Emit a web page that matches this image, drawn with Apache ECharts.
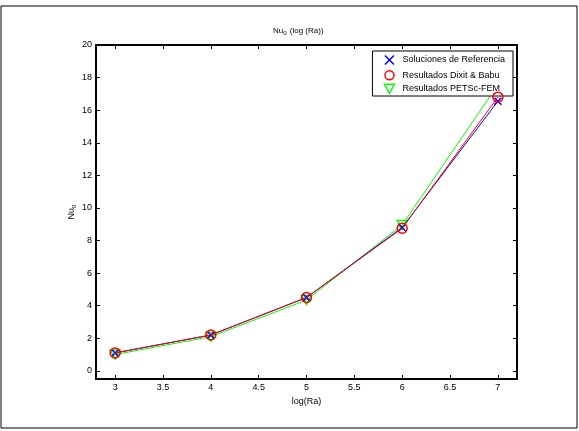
<!DOCTYPE html>
<html>
<head>
<meta charset="utf-8">
<script src="https://cdn.jsdelivr.net/npm/echarts@6/dist/echarts.min.js"></script>
<style>
  html, body { margin: 0; padding: 0; background: #fff; }
  #chart { width: 579px; height: 431px; }
</style>
</head>
<body>
<div id="chart"></div>
<script>
// log(Ra) categories
const logRa = [3, 4, 5, 6, 7];
// Nu_0 values
const referencia = [1.1, 2.2, 4.5, 8.8, 16.55];
const dixitBabu = [1.1, 2.2, 4.5, 8.75, 16.8];
const petscFem = [1.0, 2.1, 4.35, 8.95, 17.55];
// tick labels
const xTicks = [3, 3.5, 4, 4.5, 5, 5.5, 6, 6.5, 7];
const yTicks = [0, 2, 4, 6, 8, 10, 12, 14, 16, 18, 20];

const names = ['Soluciones de Referencia', 'Resultados Dixit & Babu', 'Resultados PETSc-FEM'];
const xPath = 'path://M0,0L10,10M10,0L0,10';
const triPath = 'path://M0,0L10,0L5,9Z';
const font = 'Liberation Sans, Arial, sans-serif';

const pairs = (ys) => logRa.map((x, i) => [x, ys[i]]);

const chart = echarts.init(document.getElementById('chart'));

const axisBase = {
  type: 'value',
  axisLine: { show: true, onZero: false, lineStyle: { color: '#000', width: 2 } },
  splitLine: { show: false },
};
const tickStyle = { color: '#000', width: 1 };

chart.setOption({
  animation: false,
  backgroundColor: '#fff',
  title: {
    text: 'Nu{sub|0} (log (Ra))',
    left: 268,
    top: 20,
    textStyle: {
      fontFamily: font,
      fontSize: 8,
      fontWeight: 'normal',
      color: '#000',
      rich: { sub: { fontFamily: font, fontSize: 6, verticalAlign: 'bottom', padding: [5, 1, 0, 0] } },
    },
  },
  legend: {
    orient: 'vertical',
    right: 66,
    top: 51,
    backgroundColor: '#fff',
    borderColor: '#000',
    borderWidth: 1,
    borderRadius: 0,
    padding: [2, 8, 2, 10],
    itemGap: 3,
    itemWidth: 10,
    itemHeight: 9,
    textStyle: { fontFamily: font, fontSize: 9, lineHeight: 9, color: '#000', padding: [0, 0, 0, 3] },
    data: [
      { name: names[0], icon: xPath, itemStyle: { color: 'none', borderColor: '#0000ff', borderWidth: 1.5 } },
      { name: names[1], icon: 'circle', itemStyle: { color: '#fff', borderColor: '#ff0000', borderWidth: 1.5 } },
      { name: names[2], icon: triPath, itemStyle: { color: '#fff', borderColor: '#00ff00', borderWidth: 1.5 } },
    ],
  },
  grid: { left: 96, right: 62, top: 45, bottom: 52 },
  xAxis: [
    {
      ...axisBase,
      min: 2.8,
      max: 7.2,
      position: 'bottom',
      name: 'log(Ra)',
      nameLocation: 'middle',
      nameGap: 17,
      nameTextStyle: { fontFamily: font, fontSize: 9, color: '#000' },
      axisTick: { show: true, inside: true, length: 4, customValues: xTicks, lineStyle: tickStyle },
      axisLabel: { customValues: xTicks, fontFamily: font, fontSize: 9, color: '#000', margin: 4 },
    },
    {
      ...axisBase,
      min: 2.8,
      max: 7.2,
      position: 'top',
      axisTick: { show: true, inside: true, length: 4, customValues: xTicks, lineStyle: tickStyle },
      axisLabel: { show: false },
    },
  ],
  yAxis: [
    {
      ...axisBase,
      min: -0.5,
      max: 20,
      position: 'left',
      name: 'Nu{sub|0}',
      nameLocation: 'middle',
      nameGap: 19,
      nameMoveOverlap: false,
      nameTextStyle: {
        fontFamily: font, fontSize: 9, color: '#000',
        rich: { sub: { fontFamily: font, fontSize: 6, verticalAlign: 'bottom', padding: [5, 0, 0, 0] } },
      },
      axisTick: { show: true, inside: true, length: 4, customValues: yTicks, lineStyle: tickStyle },
      axisLabel: { customValues: yTicks, fontFamily: font, fontSize: 9, color: '#000', margin: 4 },
    },
    {
      ...axisBase,
      min: -0.5,
      max: 20,
      position: 'right',
      axisTick: { show: true, inside: true, length: 4, customValues: yTicks, lineStyle: tickStyle },
      axisLabel: { show: false },
    },
  ],
  series: [
    {
      name: names[0],
      type: 'line',
      data: pairs(referencia),
      symbol: xPath,
      symbolSize: 7,
      lineStyle: { color: '#0000ff', width: 1 },
      itemStyle: { color: 'none', borderColor: '#0000ff', borderWidth: 1.5 },
      z: 3,
    },
    {
      name: names[1],
      type: 'line',
      data: pairs(dixitBabu),
      symbol: 'circle',
      symbolSize: 10,
      lineStyle: { color: '#ff0000', width: 1 },
      itemStyle: { color: 'none', borderColor: '#ff0000', borderWidth: 1.5 },
      z: 4,
    },
    {
      name: names[2],
      type: 'line',
      data: pairs(petscFem),
      symbol: triPath,
      symbolSize: [10, 9],
      lineStyle: { color: '#00ff00', width: 1 },
      itemStyle: { color: 'none', borderColor: '#00ff00', borderWidth: 1.5 },
      z: 2,
    },
  ],
  graphic: [
    {
      type: 'rect',
      shape: { x: 1, y: 6, width: 576, height: 422 },
      style: { fill: 'none', stroke: '#000', lineWidth: 1 },
      silent: true,
    },
  ],
});
</script>
</body>
</html>
